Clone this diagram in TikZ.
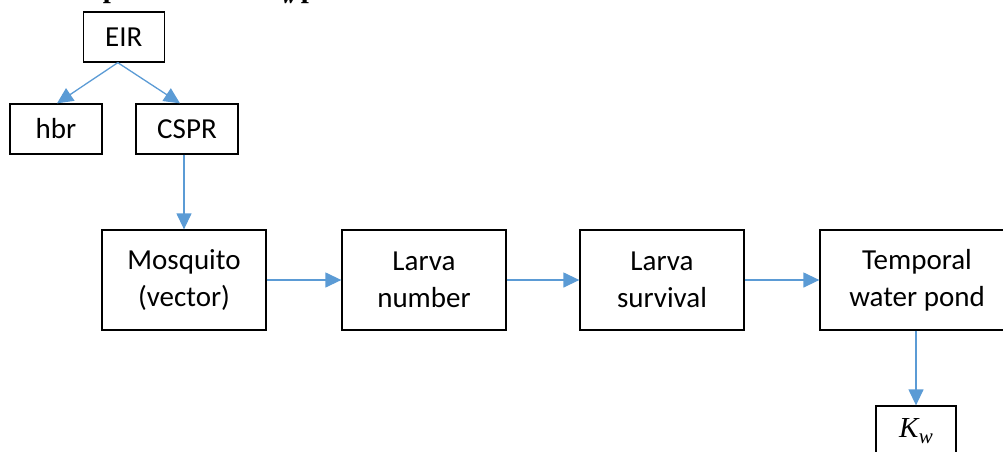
\documentclass[tikz,border=0pt]{standalone}
\usepackage{fontspec}
\setmainfont{Carlito}
\newfontfamily\serifit{Liberation Serif}
\usetikzlibrary{arrows.meta}
\definecolor{linkblue}{RGB}{91,155,213}
% italic K with a lowered, smaller w
\newcommand{\kwsym}{{\serifit\itshape K\kern0.5pt\raisebox{-0.22em}{\fontsize{21}{21}\selectfont w}}}
\tikzset{
  box/.style={draw=black, line width=1.3pt, rectangle, inner sep=0pt,
    align=center, font=\fontsize{29}{37}\selectfont},
  link/.style={draw=linkblue, line width=1.3pt,
    -{Triangle[length=16pt, width=15pt]}},
  headtext/.style={inner sep=0pt, font=\serifit\bfseries\fontsize{29}{34}\selectfont}
}
\begin{document}
\begin{tikzpicture}[x=1pt, y=-1pt]
  \useasboundingbox (0,0) rectangle (1003,451);
  \clip (0,0) rectangle (1003,451);

  % heading line running above the figure
  \node[headtext, anchor=base] (headp) at (111,-3) {p};
  \node[headtext, anchor=base east] (headk) at (296,-3) {\itshape K\kern0.5pt\raisebox{-0.22em}{\fontsize{20}{20}\selectfont w}};
  \node[headtext, anchor=base] (headq) at (309,-3) {p};

  % boxes
  \node[box, minimum width=81pt, minimum height=50pt] (eir) at (123.8,37) {EIR};
  \node[box, minimum width=92pt, minimum height=50pt] (hbr) at (56,129) {hbr};
  \node[box, minimum width=102pt, minimum height=50pt] (cspr) at (187,129) {CSPR};
  \node[box, minimum width=164pt, minimum height=100pt] (mosq) at (184,280) {Mosquito\\(vector)};
  \node[box, minimum width=164pt, minimum height=100pt] (lnum) at (424,280) {Larva\\number};
  \node[box, minimum width=164pt, minimum height=100pt] (lsurv) at (662,280) {Larva\\survival};
  \node[box, minimum width=194pt, minimum height=100pt] (pond) at (917,280) {Temporal\\water pond};
  \node[box, minimum width=80pt, minimum height=50pt] (kw) at (916,431) {\kwsym};

  % connectors
  \draw[link] ([xshift=-6pt]eir.south) -- ([xshift=1pt]hbr.north);
  \draw[link] ([xshift=-6pt]eir.south) -- ([xshift=-7pt]cspr.north);
  \draw[link] (mosq.north |- cspr.south) -- (mosq.north);
  \draw[link] (mosq.east) -- (lnum.west);
  \draw[link] (lnum.east) -- (lsurv.west);
  \draw[link] (lsurv.east) -- (pond.west);
  \draw[link] (kw.north |- pond.south) -- (kw.north);
\end{tikzpicture}
\end{document}
